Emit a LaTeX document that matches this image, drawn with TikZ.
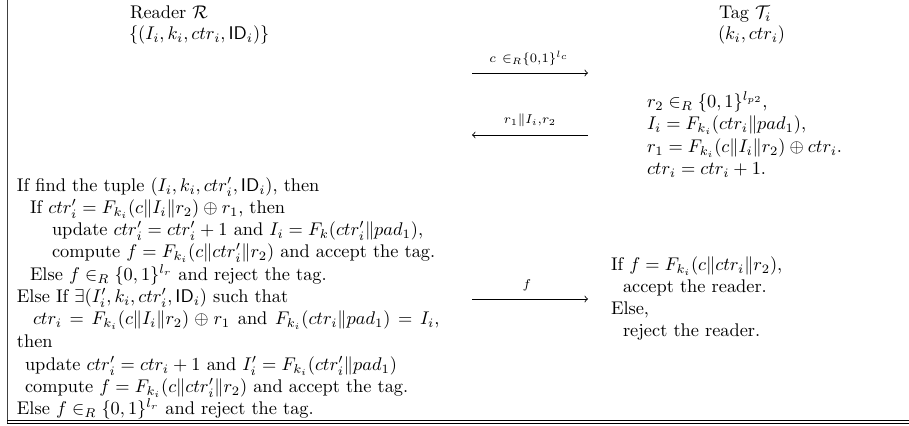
\documentclass[tikz,border=0pt]{standalone}
\usepackage{amsmath,amssymb}
\tikzset{
  txt/.style={anchor=base west, inner sep=0pt, outer sep=0pt},
  lbl/.style={inner sep=0pt, anchor=base},
  msg/.style={line width=0.45pt, ->},
  rule/.style={line width=0.5pt, draw=black!75}
}
\begin{document}
\begin{tikzpicture}[x=0.545pt, y=-0.545pt]
\useasboundingbox (0,0) rectangle (909,426);
% frame
\draw[rule] (7,0) -- (7,423.3);
\draw[line width=0.45pt] (7,420.6) -- (909,420.6);
\draw[line width=0.45pt] (7,423.3) -- (909,423.3);
% headers
\node[txt] (rd) at (130,19) {Reader $\mathcal{R}$};
\node[txt] (rdset) at (129,40) {$\{(I_i, k_i, ctr_i, \mathsf{ID}_i)\}$};
\node[txt] (tg) at (719,19) {Tag $\mathcal{T}_i$};
\node[txt] (tgset) at (718,40) {$(k_i, ctr_i)$};
% messages
\coordinate (m1s) at (472,73);
\coordinate (m1e) at (588,73);
\draw[msg] (m1s) -- (m1e);
\node[lbl] (m1l) at (529,63) {$\scriptstyle c\ \in_R\{0,1\}^{l_c}$};
\coordinate (m2s) at (588,135);
\coordinate (m2e) at (472,135);
\draw[msg] (m2s) -- (m2e);
\node[lbl] (m2l) at (530,124) {$\scriptstyle r_1\|I_i,r_2$};
\coordinate (m3s) at (472,299);
\coordinate (m3e) at (588,299);
\draw[msg] (m3s) -- (m3e);
\node[lbl] (m3l) at (527,288) {$\scriptstyle f$};
% tag computation
\node[txt] (t1) at (647,107.5) {$r_2 \in_R \{0,1\}^{l_{p2}}$,};
\node[txt] (t2) at (647,129.5) {$I_i = F_{k_i}(ctr_i\|pad_1)$,};
\node[txt] (t3) at (647,152.5) {$r_1 = F_{k_i}(c\|I_i\|r_2)\oplus ctr_i$.};
\node[txt] (t4) at (647,174.5) {$ctr_i = ctr_i + 1$.};
% reader verification
\node[txt] (r1) at (17,191.5) {If find the tuple $(I_i, k_i, ctr'_i, \mathsf{ID}_i)$, then};
\node[txt] (r2) at (30,213.5) {If $ctr'_i = F_{k_i}(c\|I_i\|r_2)\oplus r_1$, then};
\node[txt] (r3) at (52,235.5) {update $ctr'_i = ctr'_i + 1$ and $I_i = F_k(ctr'_i\|pad_1)$,};
\node[txt] (r4) at (52,257.5) {compute $f = F_{k_i}(c\|ctr'_i\|r_2)$ and accept the tag.};
\node[txt] (r5) at (30,280.5) {Else $f \in_R \{0,1\}^{l_r}$ and reject the tag.};
\node[txt] (r6) at (17,302.5) {Else If $\exists(I'_i, k_i, ctr'_i, \mathsf{ID}_i)$ such that};
\node[txt] (r7) at (33,324.5) {\makebox[221.5pt][s]{$ctr_i = F_{k_i}(c\|I_i\|r_2)\oplus r_1$ and $F_{k_i}(ctr_i\|pad_1) = I_i$,}};
\node[txt] (r8) at (17,347.5) {then};
\node[txt] (r9) at (25,370.5) {update $ctr'_i = ctr_i + 1$ and $I'_i = F_{k_i}(ctr'_i\|pad_1)$};
\node[txt] (r10) at (25,392.5) {compute $f = F_{k_i}(c\|ctr'_i\|r_2)$ and accept the tag.};
\node[txt] (r11) at (17,414.5) {Else $f \in_R \{0,1\}^{l_r}$ and reject the tag.};
% tag verification
\node[txt] (v1) at (611,270.5) {If $f = F_{k_i}(c\|ctr_i\|r_2)$,};
\node[txt] (v2) at (623,292.5) {accept the reader.};
\node[txt] (v3) at (611,314.5) {Else,};
\node[txt] (v4) at (623,336.5) {reject the reader.};
\end{tikzpicture}
\end{document}
